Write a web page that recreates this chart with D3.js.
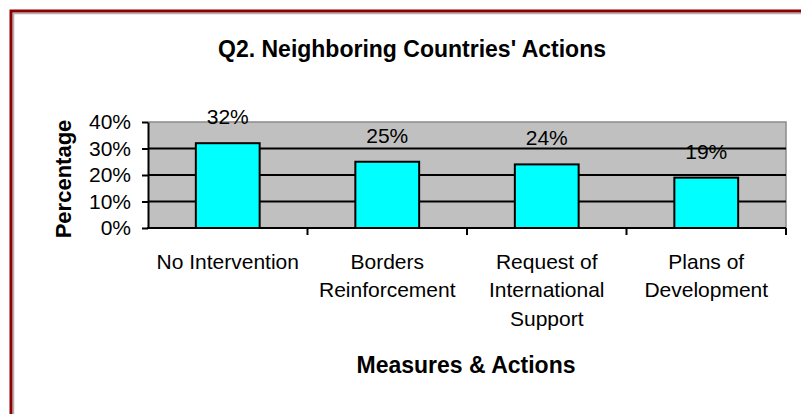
<!DOCTYPE html>
<html>
<head>
<meta charset="utf-8">
<script src="https://cdn.jsdelivr.net/npm/d3@7"></script>
<style>
  html, body { margin: 0; padding: 0; background: #ffffff; }
  svg { display: block; }
  text { font-family: "Liberation Sans", Arial, sans-serif; fill: #000; }
</style>
</head>
<body>
<script>
// ---- data ----
const categories = ["No Intervention", "Borders Reinforcement", "Request of International Support", "Plans of Development"];
const labelLines = [["No Intervention"], ["Borders", "Reinforcement"], ["Request of", "International", "Support"], ["Plans of", "Development"]];
const values = [0.32, 0.25, 0.24, 0.19];
const valueLabels = ["32%", "25%", "24%", "19%"];
const yTicks = [0, 0.1, 0.2, 0.3, 0.4];
const chartTitle = "Q2. Neighboring Countries' Actions";
const xTitle = "Measures & Actions";
const yTitle = "Percentage";

const W = 801, H = 414;
const svg = d3.select("body").append("svg").attr("width", W).attr("height", H);

// outer frame (extends past the window on the right and bottom)
svg.append("rect").attr("x", 13.5).attr("y", 13.5).attr("width", 900).attr("height", 500)
  .attr("fill", "none").attr("stroke", "#b0b0b0").attr("stroke-width", 1.5);
svg.append("rect").attr("x", 11).attr("y", 11).attr("width", 900).attr("height", 500)
  .attr("fill", "none").attr("stroke", "#8b0000").attr("stroke-width", 3);

const plot = { left: 148, right: 786, top: 122, bottom: 228 };

const x = d3.scaleBand().domain(categories).range([plot.left, plot.right])
  .paddingInner(0.6).paddingOuter(0.3);
const y = d3.scaleLinear().domain([0, 0.4]).range([plot.bottom, plot.top]);

// plot background
svg.append("rect").attr("x", plot.left).attr("y", plot.top)
  .attr("width", plot.right - plot.left).attr("height", plot.bottom - plot.top)
  .attr("fill", "#c0c0c0");
// top and right border (gray)
svg.append("path")
  .attr("d", `M${plot.left},${y(0.4)}H${plot.right}V${plot.bottom}`)
  .attr("fill", "none").attr("stroke", "#8a8a8a").attr("stroke-width", 1.5);

// gridlines
svg.append("g").selectAll("line").data(yTicks.filter(t => t > 0 && t < 0.4)).join("line")
  .attr("x1", plot.left).attr("x2", plot.right)
  .attr("y1", d => y(d)).attr("y2", d => y(d))
  .attr("stroke", "#000").attr("stroke-width", 2);

// bars
svg.append("g").selectAll("rect").data(values).join("rect")
  .attr("x", (d, i) => x(categories[i]))
  .attr("y", d => y(d))
  .attr("width", x.bandwidth())
  .attr("height", d => y(0) - y(d))
  .attr("fill", "#00ffff").attr("stroke", "#000").attr("stroke-width", 2);

// value labels
svg.append("g").selectAll("text").data(values).join("text")
  .attr("x", (d, i) => x(categories[i]) + x.bandwidth() / 2)
  .attr("y", d => y(d) - 19)
  .attr("text-anchor", "middle").attr("font-size", 21)
  .text((d, i) => valueLabels[i]);

// y axis
const yAxis = svg.append("g").attr("transform", `translate(${plot.left},0)`)
  .call(d3.axisLeft(y).tickValues(yTicks).tickFormat(d3.format(".0%")).tickSize(6).tickSizeOuter(0).tickPadding(11));
yAxis.select(".domain").attr("stroke", "#000").attr("stroke-width", 2);
yAxis.selectAll(".tick line").attr("stroke", "#000").attr("stroke-width", 2);
yAxis.selectAll(".tick text").attr("font-size", 21).attr("font-family", "Liberation Sans, Arial, sans-serif").attr("fill", "#000");

// x axis line and category ticks
svg.append("line").attr("x1", plot.left - 1).attr("x2", plot.right)
  .attr("y1", y(0)).attr("y2", y(0)).attr("stroke", "#000").attr("stroke-width", 2);
svg.append("g").selectAll("line").data(categories).join("line")
  .attr("x1", (d, i) => x.range()[0] + (i + 1) * x.step())
  .attr("x2", (d, i) => x.range()[0] + (i + 1) * x.step())
  .attr("y1", y(0)).attr("y2", y(0) + 7)
  .attr("stroke", "#000").attr("stroke-width", 2);

// category labels
const catG = svg.append("g").selectAll("text").data(categories).join("text")
  .attr("text-anchor", "middle").attr("font-size", 21);
catG.each(function(d, i) {
  const t = d3.select(this);
  labelLines[i].forEach((ln, j) => {
    t.append("tspan").attr("x", x(d) + x.bandwidth() / 2).attr("y", 268.5 + j * 28.8).text(ln);
  });
});

// titles
svg.append("text").attr("x", 412).attr("y", 57).attr("text-anchor", "middle")
  .attr("font-size", 23).attr("font-weight", "bold").text(chartTitle);
svg.append("text").attr("x", 466).attr("y", 373).attr("text-anchor", "middle")
  .attr("font-size", 23).attr("font-weight", "bold").text(xTitle);
svg.append("text").attr("transform", "translate(71,179) rotate(-90)").attr("text-anchor", "middle")
  .attr("font-size", 22).attr("font-weight", "bold").text(yTitle);
</script>
</body>
</html>
